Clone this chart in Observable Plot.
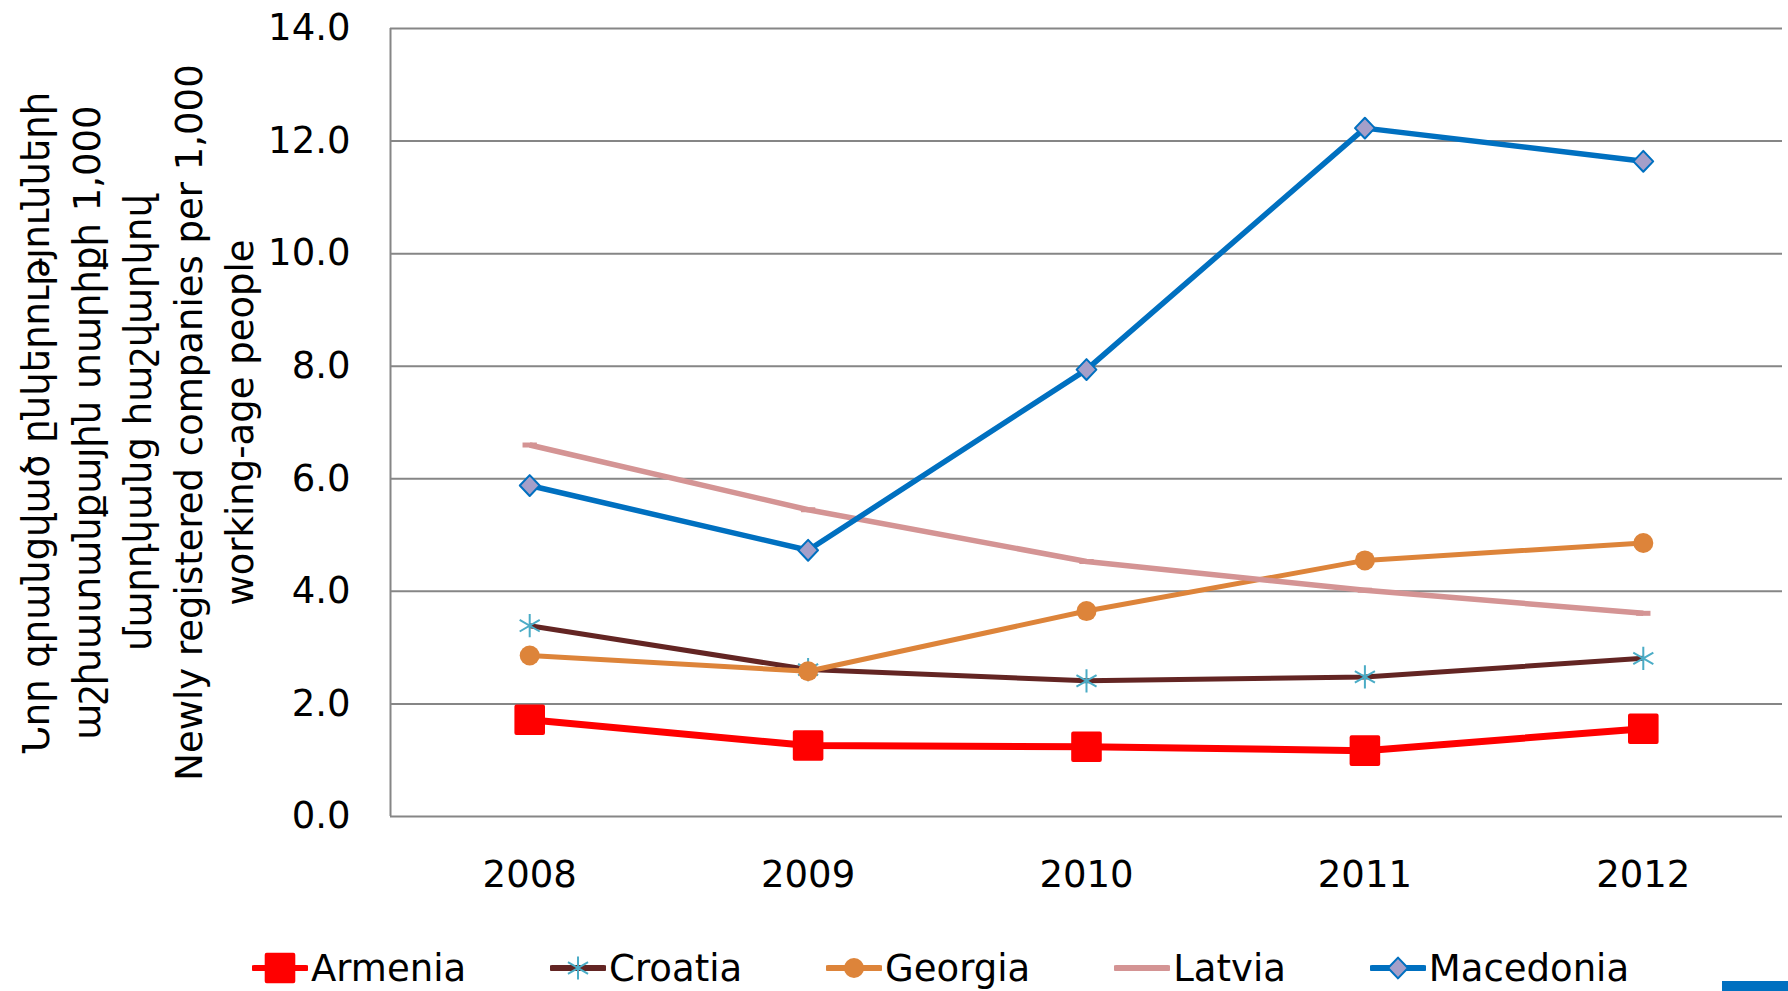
<!DOCTYPE html>
<html>
<head>
<meta charset="utf-8">
<script src="https://cdn.jsdelivr.net/npm/d3@7"></script>
<script src="https://cdn.jsdelivr.net/npm/@observablehq/plot@0.6"></script>
<style>
  html, body { margin: 0; padding: 0; background: #fff; }
  body { width: 1788px; height: 991px; position: relative; overflow: hidden; font-family: "DejaVu Sans", Verdana, sans-serif; }
  #chart { position: absolute; left: 0; top: 0; }
  #legend { position: absolute; left: 252px; top: 946px; display: flex; align-items: center; height: 44px; font-size: 37px; color: #000; white-space: nowrap; }
  .item { display: inline-flex; align-items: center; margin-right: 84px; }
  .item svg { margin-right: 3px; }
  #corner { position: absolute; left: 1722px; top: 981px; width: 66px; height: 10px; background: #0070C0; }
</style>
</head>
<body>
<div id="chart"></div>
<div id="legend"></div>
<div id="corner"></div>
<script>
// ---- data ----
const years = [2008, 2009, 2010, 2011, 2012];
const countries = ["Armenia", "Croatia", "Georgia", "Latvia", "Macedonia"];
const armenia   = [1.72, 1.26, 1.24, 1.17, 1.56];
const croatia   = [3.39, 2.61, 2.41, 2.48, 2.81];
const georgia   = [2.86, 2.58, 3.65, 4.55, 4.86];
const latvia    = [6.60, 5.45, 4.53, 4.02, 3.61];
const macedonia = [5.88, 4.73, 7.94, 12.23, 11.64];
const yTicks = [0, 2, 4, 6, 8, 10, 12, 14];
const yTitleLines = [
  "Նոր գրանցված ընկերությունների",
  "աշխատանքային տարիքի 1,000",
  "մարդկանց հաշվարկով",
  "Newly registered companies per 1,000",
  "working-age people"
];

// ---- styles ----
const diamondSym = {
  draw(ctx, size) {
    const h = Math.sqrt(size) * 0.56;
    const w = h * 0.95;
    ctx.moveTo(0, -h); ctx.lineTo(w, 0); ctx.lineTo(0, h); ctx.lineTo(-w, 0); ctx.closePath();
  }
};
const dashSym = {
  draw(ctx, size) {
    const w = Math.sqrt(size) * 0.45;
    ctx.moveTo(-w, 0); ctx.lineTo(w, 0);
  }
};
const styles = {
  Armenia:   {line: "#FF0000", width: 7, symbol: "square", r: 15, fill: "#FF0000", stroke: "#FF0000", sw: 4},
  Croatia:   {line: "#632523", width: 5, symbol: "asterisk", r: 11, fill: "none", stroke: "#4BACC6", sw: 2},
  Georgia:   {line: "#DD843A", width: 5, symbol: "circle", r: 10, fill: "#DD843A", stroke: "#DD843A", sw: 0},
  Latvia:    {line: "#D49494", width: 5.5, symbol: dashSym, r: 9, fill: "none", stroke: "#D49494", sw: 5},
  Macedonia: {line: "#0070C0", width: 5.5, symbol: diamondSym, r: 10.5, fill: "#A59FC9", stroke: "#0070C0", sw: 2}
};
const seriesValues = {Armenia: armenia, Croatia: croatia, Georgia: georgia, Latvia: latvia, Macedonia: macedonia};

const rows = countries.flatMap(c => years.map((yr, i) => ({country: c, year: yr, value: seriesValues[c][i]})));

const marks = [
  Plot.ruleY(yTicks, {stroke: "#868686", strokeWidth: 2}),
  Plot.ruleX([years[0] - 0.5], {stroke: "#868686", strokeWidth: 2}),
  Plot.axisY({ticks: yTicks, tickFormat: d => d.toFixed(1), tickSize: 0, tickPadding: 40, fontSize: 37, label: null, fill: "#000"}),
  Plot.axisX({ticks: years, tickFormat: d => String(d), tickSize: 0, tickPadding: 44, fontSize: 37, label: null, fill: "#000"}),
  Plot.text([yTitleLines.join("\n")], {
    frameAnchor: "left", rotate: -90, dx: -256, lineHeight: 1.38,
    fontSize: 37, textAnchor: "middle", lineAnchor: "middle", fill: "#000"
  })
];
for (const c of countries) {
  const s = styles[c];
  const d = rows.filter(r => r.country === c);
  marks.push(Plot.line(d, {x: "year", y: "value", stroke: s.line, strokeWidth: s.width, strokeLinejoin: "round", strokeLinecap: "butt"}));
  marks.push(Plot.dot(d, {x: "year", y: "value", symbol: s.symbol, r: s.r, fill: s.fill, stroke: s.stroke, strokeWidth: s.sw, strokeLinejoin: "round"}));
}

const H = 940;
const chart = Plot.plot({
  width: 1788,
  height: H,
  marginLeft: 390,
  marginRight: 6,
  marginTop: 28,
  marginBottom: H - 816,
  style: {fontFamily: "DejaVu Sans, Verdana, sans-serif", background: "#fff", color: "#000", overflow: "visible"},
  x: {type: "linear", domain: [years[0] - 0.5, years[years.length - 1] + 0.5]},
  y: {domain: [yTicks[0], yTicks[yTicks.length - 1]]},
  marks
});
document.getElementById("chart").appendChild(chart);

// ---- legend ----
const legend = d3.select("#legend");
const symbolFor = s => typeof s.symbol === "string"
  ? ({square: d3.symbolSquare, asterisk: d3.symbolAsterisk, circle: d3.symbolCircle})[s.symbol]
  : s.symbol;
for (const c of countries) {
  const s = styles[c];
  const item = legend.append("span").attr("class", "item");
  const svg = item.append("svg").attr("width", 56).attr("height", 40);
  svg.append("line").attr("x1", 2).attr("x2", 54).attr("y1", 20).attr("y2", 20)
    .attr("stroke", s.line).attr("stroke-width", 6).attr("stroke-linecap", "round");
  if (c !== "Latvia") {
    const size = Math.PI * s.r * s.r;
    svg.append("path").attr("transform", "translate(28,20)")
      .attr("d", d3.symbol(symbolFor(s), size)())
      .attr("fill", s.fill).attr("stroke", s.stroke).attr("stroke-width", s.sw)
      .attr("stroke-linejoin", "round");
  }
  item.append("span").text(c);
}
</script>
</body>
</html>
